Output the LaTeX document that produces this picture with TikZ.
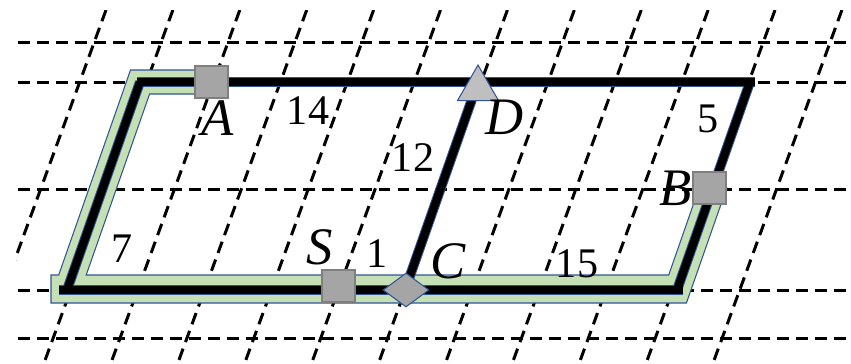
\documentclass[tikz,border=0pt]{standalone}
\usepackage{fontspec}
\setmainfont{Liberation Serif}
\usetikzlibrary{shapes.geometric}
\definecolor{bandgreen}{RGB}{197,224,180}
\definecolor{edgeblue}{RGB}{47,85,151}
\definecolor{markgray}{RGB}{165,165,165}
\definecolor{markline}{RGB}{127,127,127}
\definecolor{trigray}{RGB}{191,191,191}
\begin{document}
\begin{tikzpicture}[x=0.02cm,y=-0.02cm,
  gridline/.style={line width=1.7pt,dash pattern=on 6.8pt off 4pt},
  edgeout/.style={edgeblue,line width=0.2cm},
  edgein/.style={black,line width=0.16cm},
  bandpoly/.style={fill=bandgreen,draw=edgeblue,line width=0.6pt},
  marksq/.style={rectangle,minimum width=0.66cm,minimum height=0.64cm,inner sep=0pt,fill=markgray,draw=markline,line width=1pt},
  markdia/.style={diamond,minimum width=0.92cm,minimum height=0.68cm,inner sep=0pt,fill=markgray,draw=edgeblue,line width=0.6pt},
  marktri/.style={regular polygon,regular polygon sides=3,minimum size=0.947cm,inner sep=0pt,fill=trigray,draw=edgeblue,line width=0.6pt},
  lbl/.style={inner sep=0pt,font=\fontsize{30}{30}\selectfont\itshape},
  num/.style={inner sep=0pt,font=\fontsize{24}{24}\selectfont}]
\useasboundingbox (0,0) rectangle (851,363);
% dashed grid
\begin{scope}
  \clip (16,10) rectangle (851,363);
  \foreach \xt in {106,172.9,239.8,306.7,373.6,440.5,507.4,574.3,641.2,708.1,775,841.9}
    \draw[gridline] (\xt,10) -- ++(-131.4,360);
  \foreach \yy in {42,82,189,290,338}
    \draw[gridline] (18,\yy) -- (851,\yy);
\end{scope}
% green band
\path[bandpoly] (211,70) -- (130.5,70) -- (58.7,275) -- (51,275) -- (51,303) -- (686.4,303)
  -- (726.7,188) -- (699.1,188) -- (668.7,275) -- (86.2,275) -- (149.6,94) -- (211,94) -- cycle;
% parallelogram coordinates
\coordinate (TL) at (140,82);
\coordinate (BL) at (67,290);
\coordinate (TR) at (750,82);
\coordinate (BR) at (677,290);
\coordinate (Dp) at (478,82);
\coordinate (Cp) at (405,290);
\coordinate (TLe) at (137,82);
\coordinate (TRe) at (755,82);
\coordinate (BLe) at (59,290);
\coordinate (BRe) at (683,290);
\foreach \st in {edgeout,edgein}{
  \draw[\st] (TLe) -- (TRe);
  \draw[\st] (BLe) -- (BRe);
  \draw[\st] (TL) -- (BL);
  \draw[\st] (TR) -- (BR);
  \draw[\st] (Dp) -- (Cp);
}
% markers
\node[marksq] (A) at (211.5,82) {};
\node[marksq] (S) at (338.5,286) {};
\node[marksq] (B) at (709.5,188) {};
\node[marktri] (D) at (478,88.7) {};
\node[markdia] (C) at (406,290) {};
% labels
\node[lbl] (lA) at (218,118.5) {A};
\node[lbl] (lB) at (676,188) {B};
\node[lbl] (lC) at (448,261) {C};
\node[lbl] (lD) at (505,117) {D};
\node[lbl] (lS) at (320,247) {S};
\node[num] (n14) at (308,111) {14};
\node[num] (n12) at (413,158) {12};
\node[num] (n5) at (708,119) {5};
\node[num] (n7) at (122,249) {7};
\node[num] (n1) at (377,254) {1};
\node[num] (n15) at (577,264) {15};
\end{tikzpicture}
\end{document}
